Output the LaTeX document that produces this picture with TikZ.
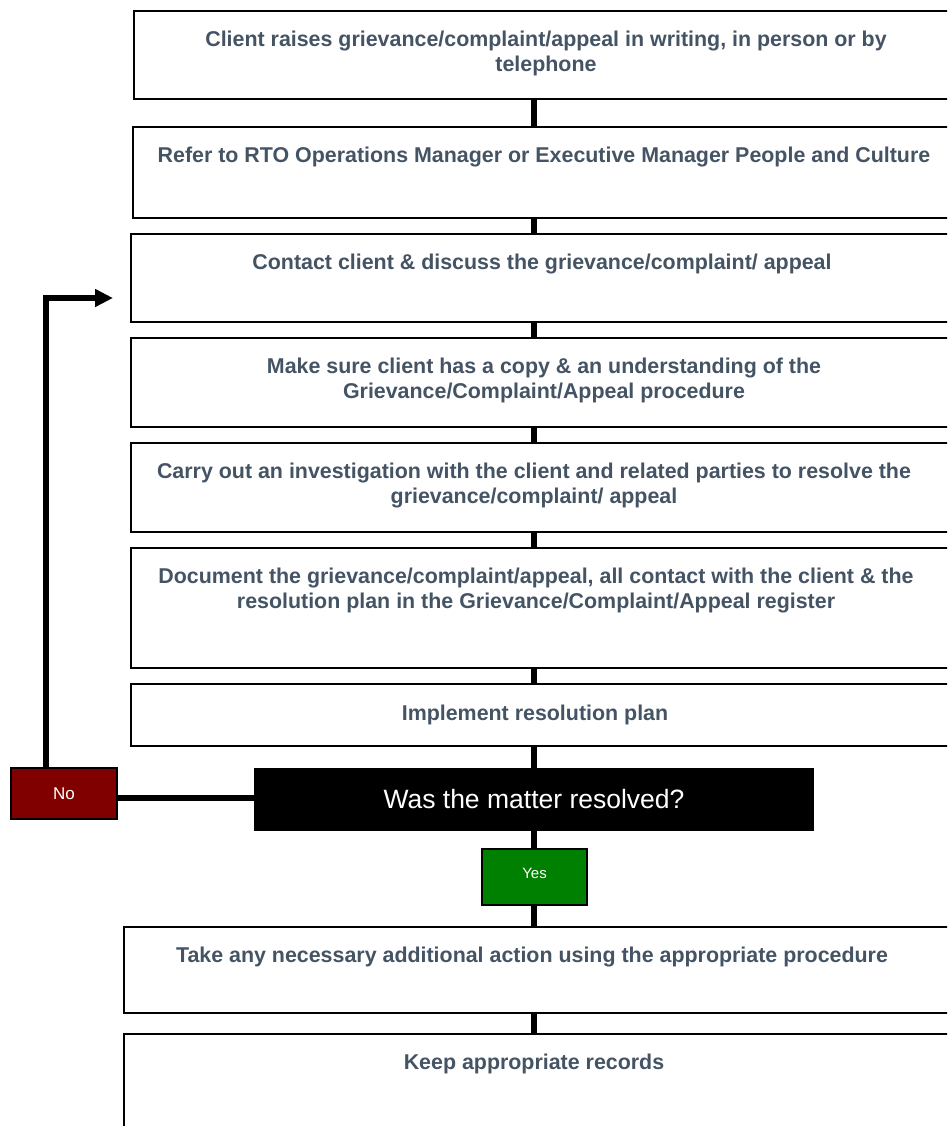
\documentclass[tikz,border=0pt]{standalone}
\usepackage{fontspec}
\setmainfont{Liberation Sans}
\usetikzlibrary{arrows.meta}
\definecolor{txtc}{RGB}{68,84,100}
\definecolor{nored}{RGB}{128,0,0}
\definecolor{yesgreen}{RGB}{0,128,0}
\begin{document}
\begin{tikzpicture}[x=1pt,y=-1pt,
  stepbox/.style={draw=black, line width=2pt, fill=white, inner sep=0pt, outer sep=0pt, anchor=north west},
  steptext/.style={font=\bfseries\fontsize{21.4}{25}\selectfont, text=txtc, align=center, inner sep=0pt, anchor=north},
  conn/.style={line width=5.5pt, draw=black},
  decbox/.style={fill=black, inner sep=0pt, outer sep=0pt, anchor=north west, text=white, font=\fontsize{26.5}{30}\selectfont},
  answer/.style={draw=black, line width=1.5pt, inner sep=0pt, outer sep=0pt, anchor=north west, text=white}
]
\useasboundingbox (0,0) rectangle (947,1126);
\clip (0,0) rectangle (947,1126);
\coordinate (spine) at (534,0);
\coordinate (ly) at (0,798);
\coordinate (fbx) at (46,0);
\coordinate (tip) at (113,298);

% boxes
\node[stepbox, minimum width=824pt, minimum height=88pt] (b1) at (134,11) {};
\node[stepbox, minimum width=825pt, minimum height=91pt] (b2) at (133,127) {};
\node[stepbox, minimum width=827pt, minimum height=88pt] (b3) at (131,234) {};
\node[stepbox, minimum width=827pt, minimum height=89pt] (b4) at (131,338) {};
\node[stepbox, minimum width=827pt, minimum height=89pt] (b5) at (131,443) {};
\node[stepbox, minimum width=827pt, minimum height=120pt] (b6) at (131,548) {};
\node[stepbox, minimum width=827pt, minimum height=62pt] (b7) at (131,684) {};
\node[stepbox, minimum width=834pt, minimum height=86pt] (b8) at (124,927) {};
\node[stepbox, minimum width=834pt, minimum height=120pt] (b9) at (124,1034) {};

% texts
\node[steptext] (t1) at (546,31) {Client raises grievance/complaint/appeal in writing, in person or by\\telephone};
\node[steptext] (t2) at (544,147) {Refer to RTO Operations Manager or Executive Manager People and Culture};
\node[steptext] (t3) at (542,254) {Contact client \& discuss the grievance/complaint/ appeal};
\node[steptext] (t4) at (544,358) {Make sure client has a copy \& an understanding of the\\Grievance/Complaint/Appeal procedure};
\node[steptext] (t5) at (534,463) {Carry out an investigation with the client and related parties to resolve the\\grievance/complaint/ appeal};
\node[steptext] (t6) at (536,568) {Document the grievance/complaint/appeal, all contact with the client \& the\\resolution plan in the Grievance/Complaint/Appeal register};
\node[steptext] (t7) at (535,705) {Implement resolution plan};
\node[steptext] (t8) at (532,947) {Take any necessary additional action using the appropriate procedure};
\node[steptext] (t9) at (534,1054) {Keep appropriate records};

% decision and answers
\node[decbox, minimum width=560pt, minimum height=63pt] (dec) at (254,768) {Was the matter resolved?};
\node[answer, fill=nored, minimum width=106pt, minimum height=51pt, font=\fontsize{17}{20}\selectfont] (no) at (11,768) {No};
\node[answer, fill=yesgreen, minimum width=105pt, minimum height=56pt] (yes) at (482,849) {};
\node[text=white, font=\fontsize{15}{18}\selectfont, inner sep=0pt] (yeslbl) at ([yshift=4pt]yes.center) {Yes};

% connectors
\draw[conn] (b1.south -| spine) -- (b2.north -| spine);
\draw[conn] (b2.south -| spine) -- (b3.north -| spine);
\draw[conn] (b3.south -| spine) -- (b4.north -| spine);
\draw[conn] (b4.south -| spine) -- (b5.north -| spine);
\draw[conn] (b5.south -| spine) -- (b6.north -| spine);
\draw[conn] (b6.south -| spine) -- (b7.north -| spine);
\draw[conn] (b7.south -| spine) -- (dec.north -| spine);
\draw[conn] (dec.south -| spine) -- (yes.north -| spine);
\draw[conn] (yes.south -| spine) -- (b8.north -| spine);
\draw[conn] (b8.south -| spine) -- (b9.north -| spine);

% No branch
\draw[conn] (no.east |- ly) -- (dec.west |- ly);
\draw[conn, -{Triangle[length=18pt, width=17pt]}] (no.north -| fbx) |- (tip);
\end{tikzpicture}
\end{document}
